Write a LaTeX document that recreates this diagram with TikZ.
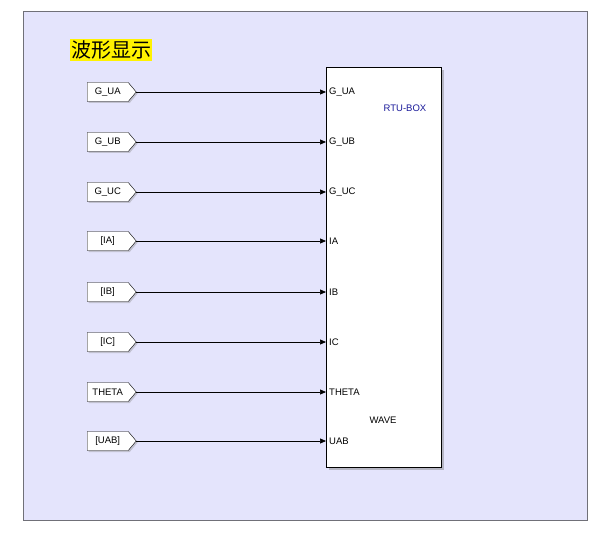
\documentclass[tikz,border=0pt]{standalone}
\usepackage{fontspec}
\setmainfont{Liberation Sans}
\newfontfamily\cjk{Noto Sans CJK SC}
\usetikzlibrary{shapes.symbols,arrows.meta,shadows}
\definecolor{bgblue}{HTML}{E4E4FC}
\definecolor{frame}{HTML}{707078}
\definecolor{labblue}{HTML}{1A1A9A}
\tikzset{
  tagbox/.style={signal, signal to=east, signal pointer angle=100, draw=black, fill=white,
    minimum width=49pt, minimum height=19pt, inner xsep=1pt, inner ysep=0pt,
    text width=33pt, align=center, font=\fontsize{9.5}{10}\selectfont, anchor=west,
    drop shadow={shadow xshift=1.5pt, shadow yshift=-1.5pt, opacity=0.35}},
  portlab/.style={anchor=west, inner sep=0pt, font=\fontsize{9.5}{10}\selectfont},
  wire/.style={draw=black, line width=0.7pt, -{Triangle[length=6pt,width=5pt]}},
}
\begin{document}
\begin{tikzpicture}[x=1pt,y=-1pt]
\useasboundingbox (0,0) rectangle (604,537);
\fill[white] (0,0) rectangle (604,537);
\draw[frame, fill=bgblue, line width=0.8pt] (23,11) rectangle (587,520);
\node[fill=yellow, inner xsep=1pt, inner ysep=2pt, anchor=west, font=\cjk\fontsize{20}{21}\selectfont] (title) at (70,50) {波形显示};
\node[draw=black, fill=white, line width=0.8pt, minimum width=115pt, minimum height=400pt, anchor=north west,
  drop shadow={shadow xshift=2.5pt, shadow yshift=-2.5pt, opacity=0.45}] (box) at (326,67) {};
\node[font=\fontsize{9.5}{10}\selectfont, text=labblue] (rtu) at (405,108) {RTU-BOX};
\node[font=\fontsize{9.5}{10}\selectfont] (wave) at (383,420) {WAVE};
\foreach \n/\t/\p/\y in {1/G\_UA/G\_UA/92, 2/G\_UB/G\_UB/142, 3/G\_UC/G\_UC/192, 4/[IA]/IA/241, 5/[IB]/IB/292, 6/[IC]/IC/342, 7/THETA/THETA/392, 8/[UAB]/UAB/441}{
  \node[tagbox] (tag\n) at (87,\y) {\t};
  \coordinate (in\n) at (326,\y);
  \node[portlab] (port\n) at (329,\y) {\p};
  \draw[wire] (tag\n.east) -- (in\n);
}
\end{tikzpicture}
\end{document}
